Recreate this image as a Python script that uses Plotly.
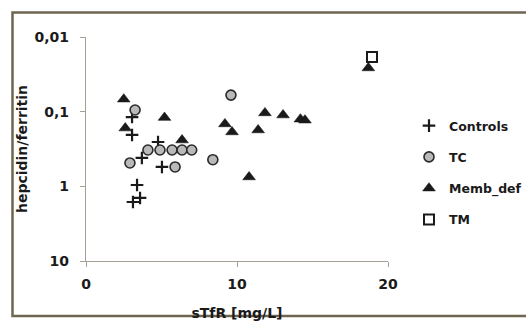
import plotly.graph_objects as go

# Data (x = sTfR [mg/L], y = hepcidin/ferritin)
controls_x = [3.05, 3.05, 4.77, 3.7, 5.03, 3.38, 3.11, 3.58]
controls_y = [0.118, 0.205, 0.255, 0.417, 0.55, 0.96, 1.62, 1.43]

tc_x = [3.25, 4.1, 4.9, 5.7, 6.36, 7.0, 2.91, 5.9, 8.4, 9.6]
tc_y = [0.095, 0.326, 0.326, 0.326, 0.326, 0.326, 0.486, 0.55, 0.44, 0.06]

memb_x = [2.5, 5.2, 2.6, 6.36, 9.2, 9.67, 11.4, 11.85, 13.05, 14.2, 14.5, 10.8, 18.7]
memb_y = [0.068, 0.12, 0.166, 0.24, 0.146, 0.187, 0.176, 0.104, 0.111, 0.126, 0.13, 0.75, 0.026]

tm_x = [18.94]
tm_y = [0.0186]

y_tickvals = [0.01, 0.1, 1, 10]
y_ticktext = ["0,01", "0,1", "1", "10"]
x_tickvals = [0, 10, 20]

FONT = "DejaVu Sans, Liberation Sans, Arial, sans-serif"
INK = "#1a1a1a"
AXC = "#a59f94"

fig = go.Figure()
fig.add_trace(go.Scatter(
    x=controls_x, y=controls_y, mode="markers", name="Controls", legendgroup="a",
    marker=dict(symbol="cross-thin", size=9, color=INK, line=dict(color=INK, width=2.2)),
))
fig.add_trace(go.Scatter(
    x=tc_x, y=tc_y, mode="markers", name="TC", legendgroup="b",
    marker=dict(symbol="circle", size=10, color="#b9b9b9", line=dict(color="#2a2a2a", width=1.6)),
))
fig.add_trace(go.Scatter(
    x=memb_x, y=memb_y, mode="markers", name="Memb_def", legendgroup="c",
    marker=dict(symbol="triangle-up", size=11, color=INK, line=dict(color=INK, width=0.6)),
))
fig.add_trace(go.Scatter(
    x=tm_x, y=tm_y, mode="markers", name="TM", legendgroup="d",
    marker=dict(symbol="square-open", size=10, color=INK, line=dict(color=INK, width=2)),
))

L, R, T, B = 86, 388, 37, 261
W, H = 526, 326
pw, ph = R - L, B - T

def px_x(p):
    return (p - L) / pw

def px_y(p):
    return (B - p) / ph

# outer frame of the chart image
fig.add_shape(type="rect", xref="paper", yref="paper",
              x0=px_x(12.5), x1=px_x(540), y0=px_y(12.5), y1=px_y(316),
              line=dict(color="#6f6553", width=2.5), fillcolor="rgba(0,0,0,0)", layer="below")

bold14 = dict(family=FONT, size=14, color=INK, weight="bold")

fig.update_layout(
    width=W, height=H,
    margin=dict(l=L, r=W - R, t=T, b=H - B, autoexpand=False),
    paper_bgcolor="white", plot_bgcolor="white",
    font=dict(family=FONT, size=13, color=INK),
    showlegend=True,
    legend=dict(
        x=px_x(409), y=px_y(111), xanchor="left", yanchor="top",
        traceorder="grouped", tracegroupgap=12,
        font=dict(family=FONT, size=12.5, color=INK, weight="bold"),
        bgcolor="rgba(0,0,0,0)", itemwidth=30,
    ),
    xaxis=dict(
        range=[0, 20], tickvals=x_tickvals, ticks="outside", ticklen=5,
        tickcolor=AXC, showline=True, linecolor=AXC, linewidth=1.2,
        showgrid=False, zeroline=False, ticklabelstandoff=5,
        tickfont=bold14,
        title=dict(text="sTfR [mg/L]", standoff=17, font=bold14),
    ),
    yaxis=dict(
        type="log", range=[1, -2], tickvals=y_tickvals, ticktext=y_ticktext,
        ticks="outside", ticklen=5, tickcolor=AXC,
        showline=True, linecolor=AXC, linewidth=1.2,
        showgrid=False, zeroline=False, ticklabelstandoff=8,
        tickfont=bold14,
        title=dict(text="hepcidin/ferritin", standoff=3,
                   font=dict(family=FONT, size=14, color=INK, weight="bold")),
    ),
)

fig.write_html("out.html", config={"displayModeBar": False},
               post_script="document.body.style.margin='0px';")
